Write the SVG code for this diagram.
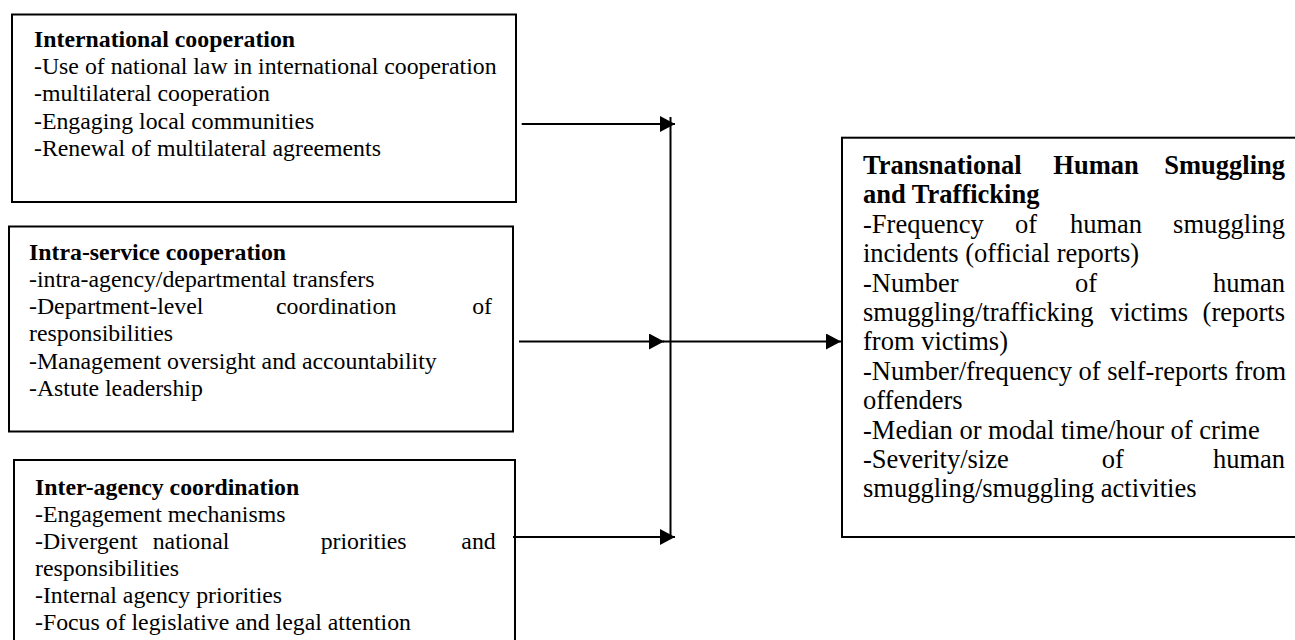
<svg xmlns="http://www.w3.org/2000/svg" width="1295" height="640" viewBox="0 0 1295 640">
<style>
.box{fill:#fff;stroke:#000;stroke-width:2}
.t{font-family:"Liberation Serif","Times New Roman",serif;font-size:23.8px;fill:#000}
.r{font-family:"Liberation Serif","Times New Roman",serif;font-size:26.5px;fill:#000}
.b{font-weight:bold}
.e{text-anchor:end}
.c{fill:none;stroke:#000;stroke-width:2}
</style>
<defs>
<marker id="ah" markerUnits="userSpaceOnUse" markerWidth="16" markerHeight="16" refX="15" refY="8" orient="auto">
<path d="M0,0 L15,8 L0,16 z" fill="#000"/>
</marker>
</defs>
<rect width="1295" height="640" fill="#fff"/>
<g id="n1">
<rect class="box" x="12" y="14.5" width="504" height="187.5"/>
<text class="t b" x="34" y="46.7">International cooperation</text>
<text class="t" x="34" y="74">-Use of national law in international cooperation</text>
<text class="t" x="34" y="101.3">-multilateral cooperation</text>
<text class="t" x="34" y="128.6">-Engaging local communities</text>
<text class="t" x="34" y="155.9">-Renewal of multilateral agreements</text>
</g>
<g id="n2">
<rect class="box" x="9" y="226.5" width="504" height="205"/>
<text class="t b" x="29" y="259.5">Intra-service cooperation</text>
<text class="t" x="29" y="286.8">-intra-agency/departmental transfers</text>
<text class="t" x="29" y="314.1">-Department-level</text>
<text class="t" x="276" y="314.1">coordination</text>
<text class="t e" x="492" y="314.1">of</text>
<text class="t" x="29" y="341.4">responsibilities</text>
<text class="t" x="29" y="368.7">-Management oversight and accountability</text>
<text class="t" x="29" y="396">-Astute leadership</text>
</g>
<g id="n3">
<rect class="box" x="14" y="460" width="501" height="190"/>
<text class="t b" x="35" y="495">Inter-agency coordination</text>
<text class="t" x="35" y="522">-Engagement mechanisms</text>
<text class="t" x="35" y="549">-Divergent</text>
<text class="t" x="152.7" y="549">national</text>
<text class="t" x="320.7" y="549">priorities</text>
<text class="t e" x="495.7" y="549">and</text>
<text class="t" x="35" y="576">responsibilities</text>
<text class="t" x="35" y="603">-Internal agency priorities</text>
<text class="t" x="35" y="630">-Focus of legislative and legal attention</text>
</g>
<g id="n4">
<rect class="box" x="842" y="137.7" width="460" height="399.3"/>
<text class="r b" x="863" y="174">Transnational</text>
<text class="r b" x="1053.3" y="174">Human</text>
<text class="r b e" x="1285" y="174">Smuggling</text>
<text class="r b" x="863" y="203.4">and Trafficking</text>
<text class="r" x="863" y="232.8">-Frequency</text>
<text class="r" x="1015" y="232.8">of</text>
<text class="r" x="1070" y="232.8">human</text>
<text class="r e" x="1285" y="232.8">smuggling</text>
<text class="r" x="863" y="262.2">incidents (official reports)</text>
<text class="r" x="863" y="291.6">-Number</text>
<text class="r" x="1075" y="291.6">of</text>
<text class="r e" x="1285" y="291.6">human</text>
<text class="r" x="863" y="321">smuggling/trafficking</text>
<text class="r" x="1110" y="321">victims</text>
<text class="r e" x="1285" y="321">(reports</text>
<text class="r" x="863" y="350.4">from victims)</text>
<text class="r" x="863" y="379.8">-Number/frequency of self-reports from</text>
<text class="r" x="863" y="409.2">offenders</text>
<text class="r" x="863" y="438.6">-Median or modal time/hour of crime</text>
<text class="r" x="863" y="468">-Severity/size</text>
<text class="r" x="1101.7" y="468">of</text>
<text class="r e" x="1285" y="468">human</text>
<text class="r" x="863" y="497.4">smuggling/smuggling activities</text>
</g>
<g id="connectors">
<line class="c" x1="670.5" y1="117" x2="670.5" y2="537"/>
<line class="c" x1="521.7" y1="124" x2="675" y2="124" marker-end="url(#ah)"/>
<line class="c" x1="519" y1="341.5" x2="664" y2="341.5" marker-end="url(#ah)"/>
<line class="c" x1="663" y1="341.5" x2="841" y2="341.5" marker-end="url(#ah)"/>
<line class="c" x1="513" y1="537" x2="675" y2="537" marker-end="url(#ah)"/>
</g>
</svg>
